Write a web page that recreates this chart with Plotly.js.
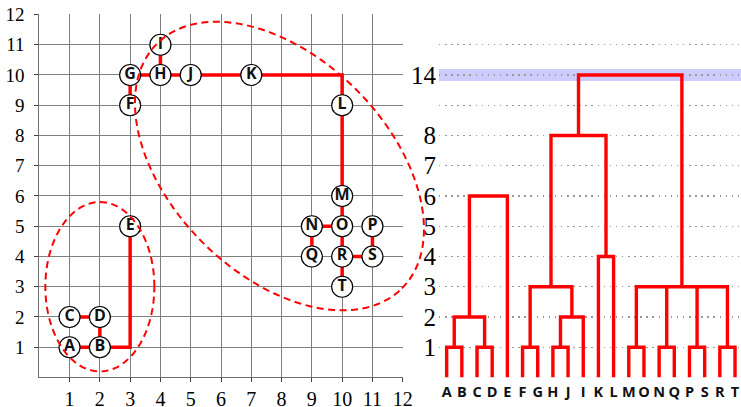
<!DOCTYPE html>
<html><head><meta charset="utf-8">
<script src="https://cdn.plot.ly/plotly-3.0.1.min.js"></script>
<style>html,body{margin:0;padding:0;background:#fff}#chart{width:741px;height:407px}</style>
</head><body><div id="chart"></div>
<script>
// ---------- Left panel: points on a grid ----------
const nodeNames = ['A','B','C','D','E','F','G','H','I','J','K','L','M','N','O','P','Q','R','S','T'];
const nodeX     = [ 1,  2,  1,  2,  3,  3,  3,  4,  4,  5,  7, 10, 10,  9, 10, 11,  9, 10, 11, 10];
const nodeY     = [ 1,  1,  2,  2,  5,  9, 10, 10, 11, 10, 10,  9,  6,  5,  5,  5,  4,  4,  4,  3];
// edges as sequences of node names; [x,y] entries are bend points
const edges = [
  ['A','B'], ['C','D'], ['B','D'], ['B',[3,1],'E'],
  ['F','G'], ['G','H'], ['H','I'], ['H','J'], ['J','K'], ['K',[10,10],'L'], ['L','M'],
  ['M','O'], ['N','O'], ['N','Q'], ['O','R'], ['R','S'], ['P','S'], ['R','T']
];
const gridTicks = [1,2,3,4,5,6,7,8,9,10,11,12];
// dashed cluster outlines
const clusterCx  = [2, 7.93];
const clusterCy  = [3, 6.99];
const clusterRx  = [1.8, 5.72];
const clusterRy  = [2.8, 3.58];
const clusterRot = [0, -45];

// ---------- Right panel: dendrogram ----------
const leaves = ['A','B','C','D','E','F','G','H','J','I','K','L','M','O','N','Q','P','S','R','T'];
const mergeIds      = ['m1','m2','m3','m4','m5','m6','m7','m8','m9','m10','m11','m12','m13','m14','m15','m16'];
const mergeChildren = [['A','B'],['C','D'],['m1','m2'],['m3','E'],
                       ['F','G'],['H','J'],['m6','I'],['m5','m7'],['K','L'],['m8','m9'],
                       ['M','O'],['N','Q'],['P','S'],['R','T'],['m11','m12','m13','m14'],['m10','m15']];
const mergeHeights  = [1,1,2,6, 1,1,2,3,4,8, 1,1,1,1,3,14];
const heightTicks   = [1,2,3,4,5,6,7,8,14];
const axisBreak     = {14: 10};        // height 14 is drawn at level 10 (broken axis)
const gridLevels    = [0,1,2,3,4,5,6,7,8,9,10,11,12];
const cutHeight     = 14;

const hp = h => (axisBreak[h] !== undefined ? axisBreak[h] : h);

// ---- build left traces ----
const nodeIdx = {}; nodeNames.forEach((n,i)=> nodeIdx[n]=i);
const ex=[], ey=[];
edges.forEach(path=>{
  path.forEach(p=>{
    if (Array.isArray(p)) { ex.push(p[0]); ey.push(p[1]); }
    else { ex.push(nodeX[nodeIdx[p]]); ey.push(nodeY[nodeIdx[p]]); }
  });
  ex.push(null); ey.push(null);
});

// ---- build dendrogram ----
const pos = {}; leaves.forEach((l,i)=> pos[l] = {x:i, y:0});
const dx=[], dy=[];
mergeIds.forEach((id,k)=>{
  const h = hp(mergeHeights[k]);
  const ch = mergeChildren[k].map(c=>pos[c]);
  const a = ch[0], b = ch[ch.length-1];
  dx.push(a.x, a.x, b.x, b.x, null); dy.push(a.y, h, h, b.y, null);
  for (let j=1;j<ch.length-1;j++){ dx.push(ch[j].x, ch[j].x, null); dy.push(ch[j].y, h, null); }
  pos[id] = {x:(a.x+b.x)/2, y:h};
});

const xr=[0,12], yr=[0,12];
function ellipsePath(k){
  const t0 = clusterRot[k]*Math.PI/180, n=120; let s='';
  for (let i=0;i<=n;i++){
    const t = 2*Math.PI*i/n;
    const x = clusterCx[k] + clusterRx[k]*Math.cos(t)*Math.cos(t0) - clusterRy[k]*Math.sin(t)*Math.sin(t0);
    const y = clusterCy[k] + clusterRx[k]*Math.cos(t)*Math.sin(t0) + clusterRy[k]*Math.sin(t)*Math.cos(t0);
    const fx = (x-xr[0])/(xr[1]-xr[0]), fy = (y-yr[0])/(yr[1]-yr[0]);
    s += (i===0?'M':'L') + fx.toFixed(5) + ',' + fy.toFixed(5);
  }
  return s;
}

const RED = '#ff0000';
const serif = 'Liberation Serif';
const sans = 'Open Sans';

const traces = [
  {x:ex, y:ey, xaxis:'x', yaxis:'y', mode:'lines', line:{color:RED, width:3.5}, hoverinfo:'skip', showlegend:false},
  {x:nodeX, y:nodeY, text:nodeNames, xaxis:'x', yaxis:'y', mode:'markers+text',
   marker:{size:21, color:'#fff', line:{color:'#000', width:1.2}},
   textposition:'middle center', textfont:{family:sans, size:16, color:'#111', weight:700},
   hoverinfo:'skip', showlegend:false, cliponaxis:false},
  {x:dx, y:dy, xaxis:'x2', yaxis:'y2', mode:'lines', line:{color:RED, width:3.4}, hoverinfo:'skip', showlegend:false}
];

const shapes = [
  {type:'rect', xref:'x2 domain', yref:'y2', x0:0, x1:1, y0:hp(cutHeight)-0.2, y1:hp(cutHeight)+0.2,
   fillcolor:'#ccccff', line:{width:0}, layer:'below'}
];
clusterCx.forEach((c,k)=>{
  shapes.push({type:'path', xref:'x domain', yref:'y domain', path:ellipsePath(k),
    line:{color:RED, width:2, dash:'7px,4.5px'}, layer:'above'});
});

const yTickText = gridLevels.map(l=>{
  const h = heightTicks.find(v=>hp(v)===l); return h===undefined ? '' : String(h);
});

const layout = {
  width:741, height:407, margin:{l:0,r:0,t:0,b:0},
  paper_bgcolor:'#fff', plot_bgcolor:'#fff', showlegend:false,
  xaxis:{domain:[0.0530,0.5435], range:xr, anchor:'y', tickmode:'array', tickvals:gridTicks,
    showgrid:true, gridcolor:'#808080', gridwidth:1, zeroline:false,
    showline:true, linecolor:'#6e6e6e', linewidth:1, ticks:'outside', ticklen:4, tickcolor:'#444',
    tickfont:{family:serif, size:20, color:'#000'}, ticklabelstandoff:0},
  yaxis:{domain:[0.0725,0.9644], range:yr, anchor:'x', tickmode:'array', tickvals:gridTicks,
    showgrid:true, gridcolor:'#808080', gridwidth:1, zeroline:false,
    showline:true, linecolor:'#6e6e6e', linewidth:1, ticks:'outside', ticklen:4, tickcolor:'#444',
    tickfont:{family:serif, size:19, color:'#000'}, ticklabelstandoff:6},
  xaxis2:{domain:[0.5924,1], range:[-0.507,19.395], anchor:'y2', tickmode:'array',
    tickvals:leaves.map((l,i)=>i), ticktext:leaves, showgrid:false, zeroline:false, showline:false,
    ticks:'', tickfont:{family:sans, size:14.5, color:'#111', weight:700}, ticklabelstandoff:4},
  yaxis2:{domain:[0.0725,0.9644], range:[0,12], anchor:'x2', tickmode:'array',
    tickvals:gridLevels, ticktext:yTickText, showgrid:true, gridcolor:'#999', gridwidth:1.3,
    griddash:'1.5px,4.6px', zeroline:false, showline:false, ticks:'',
    tickfont:{family:serif, size:25, color:'#000'}, ticklabelstandoff:2},
  shapes:shapes
};

Plotly.newPlot('chart', traces, layout, {staticPlot:true, displayModeBar:false});
</script></body></html>
